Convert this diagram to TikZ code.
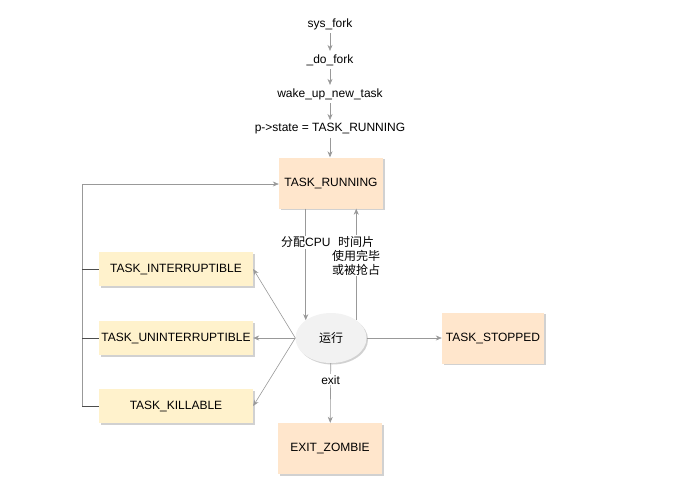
\documentclass[tikz,border=0pt]{standalone}
\usepackage{fontspec}
\setmainfont{Liberation Sans}
\newfontfamily\cjk{Noto Sans CJK SC}
\usetikzlibrary{arrows.meta,shadows,shapes.geometric}
\definecolor{peach}{HTML}{FFE6CC}
\definecolor{cream}{HTML}{FFF2CC}
\definecolor{runfill}{HTML}{F2F2F2}
\definecolor{wire}{HTML}{999999}
\definecolor{stubgray}{HTML}{4D4D4D}

\begin{document}
\begin{tikzpicture}[x=1pt, y=-1pt, font=\fontsize{12}{14}\selectfont,
	shade/.style={drop shadow={shadow xshift=1.5pt, shadow yshift=-1.5pt, fill=black!45, opacity=.4}},
	state/.style={shade, fill=peach, minimum width=104pt, minimum height=51pt, inner sep=0pt},
	sleep/.style={shade, fill=cream, minimum width=154pt, minimum height=34pt, inner sep=0pt},
	cpu/.style={shade, ellipse, fill=runfill, minimum width=71pt, minimum height=50pt, inner sep=0pt},
	arr/.style={wire, line width=.6pt, -{Stealth[length=6pt, width=5pt]}},
	stub/.style={stubgray, line width=.8pt},
	lbl/.style={fill=white, inner sep=1pt, align=center, text=black}]
	
	\useasboundingbox (0,0) rectangle (681,496);
	
	\node (sf) at (330,24) {sys\_fork};
	\node (df) at (330,60) {\_do\_fork};
	\node (wu) at (330,94) {wake\_up\_new\_task};
	\node (ps) at (330,129) {p->state = TASK\_RUNNING};
	\node[state] (tr) at (331,183) {TASK\_RUNNING};
	\node[sleep] (ti) at (176,269) {TASK\_INTERRUPTIBLE};
	\node[sleep] (tu) at (176,338) {TASK\_UNINTERRUPTIBLE};
	\node[sleep] (tk) at (176,406) {TASK\_KILLABLE};
	\node[cpu] (run) at (331,338) {\cjk 运行};
	\node[state, minimum width=102pt] (ts) at (493,338) {TASK\_STOPPED};
	\node[state] (ez) at (330,448.5) {EXIT\_ZOMBIE};
	\coordinate (rail) at (82,184);
	
	\draw[arr] (sf) -- (df);
	\draw[arr] (df) -- (wu);
	\draw[arr] (wu) -- (ps);
	\draw[arr] (ps) -- (ps |- tr.north);
	
	\draw[arr] (tr.south -| run.north west) -- node[lbl, pos=.3] {{\cjk 分配}CPU} (run.north west);
	\draw[arr] (run.north east) -- node[lbl, pos=.58] {\cjk 时间片\\ \cjk 使用完毕\\ \cjk 或被抢占} (run.north east |- tr.south);
	
	\draw[arr] (run.west) -- (ti.east);
	\draw[arr] (run.west) -- (tu.east);
	\draw[arr] (run.west) -- (tk.east);
	\draw[arr] (run.east) -- (ts.west);
	\draw[arr] (run) -- node[lbl, pos=.28] {exit} (ez);
	
	\draw[arr] (tk.west) -| (rail) -- (rail -| tr.west);
	\draw[stub] (ti.west) -- (ti.west -| rail);
	\draw[stub] (tu.west) -- (tu.west -| rail);
	\draw[stub] (tk.west) -- (tk.west -| rail);
\end{tikzpicture}
\end{document}
